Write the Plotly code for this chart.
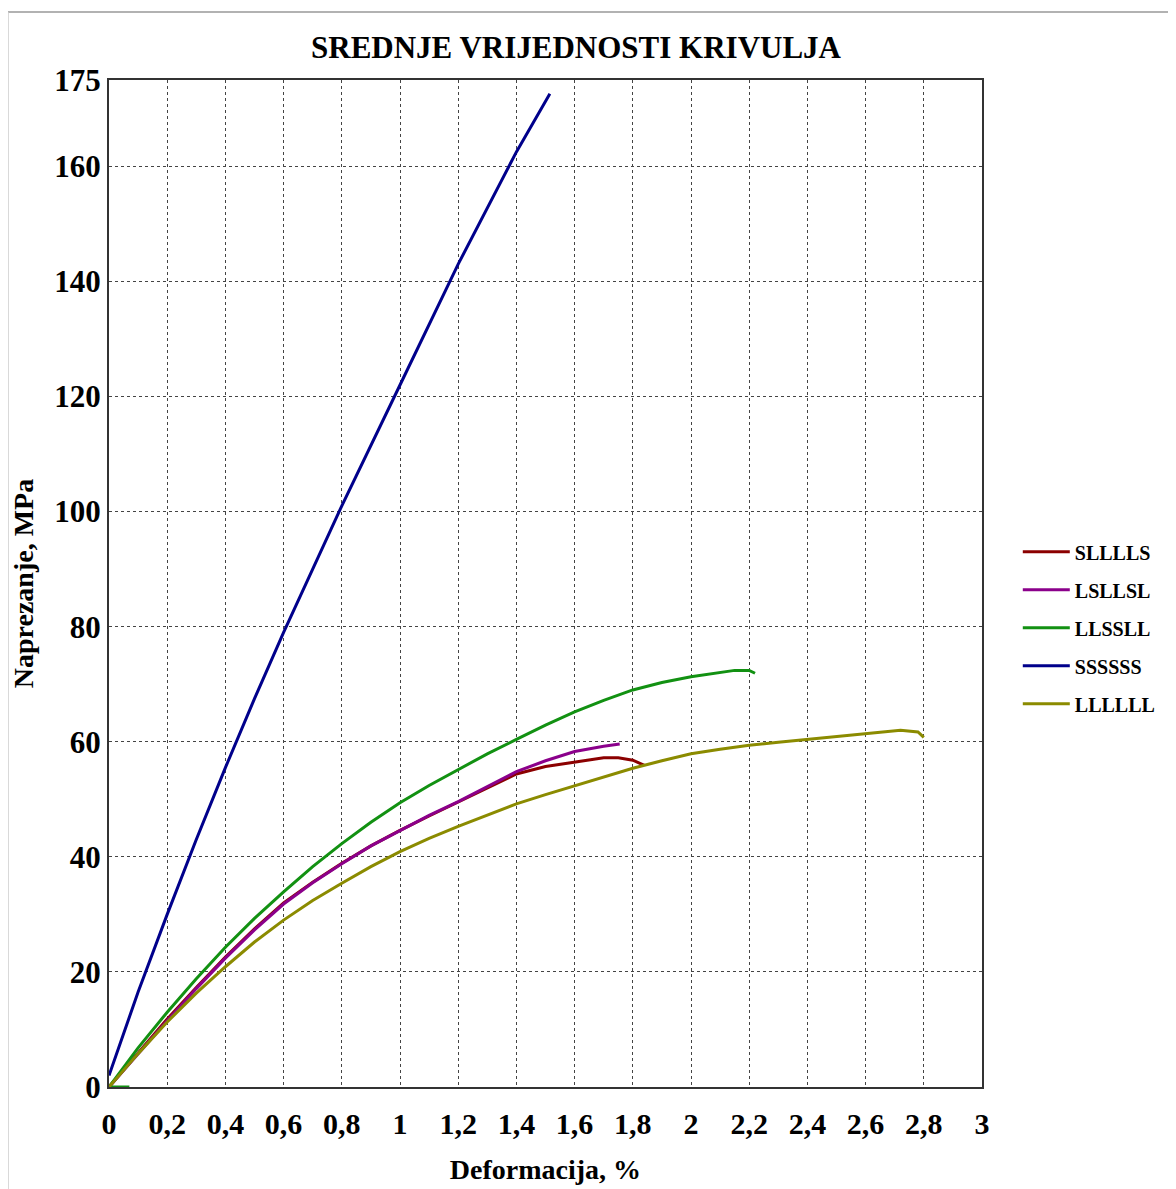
import plotly.graph_objects as go

# ---- data ----
x_sllls = [0, 0.1, 0.2, 0.3, 0.4, 0.5, 0.6, 0.7, 0.8, 0.9, 1.0, 1.1, 1.2, 1.3, 1.4, 1.5, 1.6, 1.65, 1.7, 1.75, 1.78, 1.8, 1.84]
y_sllls = [0, 6.0, 11.8, 17.3, 22.6, 27.5, 32.0, 35.6, 38.9, 41.9, 44.6, 47.1, 49.5, 52.0, 54.4, 55.7, 56.5, 56.9, 57.2, 57.2, 57.0, 56.8, 55.9]

x_lsllsl = [0, 0.1, 0.2, 0.3, 0.4, 0.5, 0.6, 0.7, 0.8, 0.9, 1.0, 1.1, 1.2, 1.3, 1.4, 1.5, 1.6, 1.7, 1.755]
y_lsllsl = [0, 5.8, 11.5, 17.1, 22.4, 27.3, 31.8, 35.5, 38.8, 41.9, 44.6, 47.2, 49.6, 52.2, 54.8, 56.7, 58.3, 59.2, 59.6]

x_llssll = [0.07, 0, 0.1, 0.2, 0.3, 0.4, 0.5, 0.6, 0.7, 0.8, 0.9, 1.0, 1.1, 1.2, 1.3, 1.4, 1.5, 1.6, 1.7, 1.8, 1.9, 2.0, 2.1, 2.15, 2.2, 2.22]
y_llssll = [0, 0, 6.8, 13.0, 18.8, 24.3, 29.3, 33.9, 38.3, 42.3, 46.0, 49.4, 52.4, 55.2, 57.9, 60.4, 62.9, 65.2, 67.2, 69.0, 70.3, 71.3, 72.0, 72.4, 72.4, 71.9]

x_ssssss = [0, 0.1, 0.2, 0.3, 0.4, 0.5, 0.6, 0.8, 1.0, 1.2, 1.4, 1.515]
y_ssssss = [2.0, 16.5, 30.0, 43.0, 55.5, 67.5, 79.0, 101.0, 122.0, 143.0, 162.5, 172.6]

x_llllll = [0, 0.1, 0.2, 0.3, 0.4, 0.5, 0.6, 0.7, 0.8, 0.9, 1.0, 1.1, 1.2, 1.3, 1.4, 1.5, 1.6, 1.7, 1.8, 1.9, 2.0, 2.1, 2.2, 2.3, 2.4, 2.5, 2.6, 2.7, 2.72, 2.78, 2.8]
y_llllll = [0, 5.8, 11.3, 16.3, 20.9, 25.2, 29.0, 32.4, 35.4, 38.3, 40.9, 43.2, 45.3, 47.3, 49.2, 50.8, 52.3, 53.9, 55.4, 56.7, 57.9, 58.7, 59.4, 59.9, 60.4, 60.9, 61.4, 61.9, 62.0, 61.7, 60.75]

series_names = ["SLLLLS", "LSLLSL", "LLSSLL", "SSSSSS", "LLLLLL"]
series_x = [x_sllls, x_lsllsl, x_llssll, x_ssssss, x_llllll]
series_y = [y_sllls, y_lsllsl, y_llssll, y_ssssss, y_llllll]
colors = ["#8B0000", "#8B008B", "#129112", "#00008B", "#8B8B00"]

x_tickvals = [0, 0.2, 0.4, 0.6, 0.8, 1.0, 1.2, 1.4, 1.6, 1.8, 2.0, 2.2, 2.4, 2.6, 2.8, 3.0]
x_ticktext = ["0", "0,2", "0,4", "0,6", "0,8", "1", "1,2", "1,4", "1,6", "1,8", "2", "2,2", "2,4", "2,6", "2,8", "3"]
y_tickvals = [0, 20, 40, 60, 80, 100, 120, 140, 160, 175]

FONT = "Liberation Serif"
W, H = 1168, 1181
ML, MR, MT, MB = 101, 194, 72, 102
PW, PH = W - ML - MR, H - MT - MB

fig = go.Figure()
for name, xs, ys, c in zip(series_names, series_x, series_y, colors):
    fig.add_trace(go.Scatter(x=xs, y=ys, mode="lines", name=name,
                             legendgroup=name,
                             line=dict(color=c, width=3)))

fig.update_layout(
    width=W, height=H,
    paper_bgcolor="white", plot_bgcolor="white",
    margin=dict(l=ML, r=MR, t=MT, b=MB),
    font=dict(family=FONT, color="black"),
    title=dict(text="SREDNJE VRIJEDNOSTI KRIVULJA", x=568 / W, xanchor="center",
               y=1 - 39 / H, yanchor="middle",
               font=dict(size=31, family=FONT, weight="bold")),
    legend=dict(x=1.041, xanchor="left", y=0.456, yanchor="middle",
                font=dict(size=20, family=FONT, weight="bold"), traceorder="grouped",
                tracegroupgap=9, itemwidth=47, bgcolor="rgba(0,0,0,0)"),
    showlegend=True,
)

fig.update_xaxes(range=[0, 3], tickvals=x_tickvals, ticktext=x_ticktext,
                 tickfont=dict(size=30, family=FONT, weight="bold"),
                 showgrid=True, gridcolor="#444", griddash="dot", gridwidth=1,
                 showline=True, linecolor="#333", linewidth=2, mirror=True,
                 zeroline=False, ticks="", ticklabelstandoff=9, automargin=False,
                 title=dict(text="Deformacija, %", font=dict(size=28, family=FONT, weight="bold"), standoff=20))
fig.update_yaxes(range=[0, 175], tickvals=y_tickvals,
                 tickfont=dict(size=31, family=FONT, weight="bold"),
                 showgrid=True, gridcolor="#444", griddash="dot", gridwidth=1,
                 showline=True, linecolor="#333", linewidth=2, mirror=True,
                 zeroline=False, ticks="", ticklabelstandoff=0, automargin=False,
                 title=dict(text="Naprezanje, MPa", font=dict(size=28, family=FONT, weight="bold"), standoff=12))

# outer frame lines of the picture
fig.add_shape(type="line", xref="paper", yref="paper", x0=-ML / PW, x1=1.3, y0=(PH + MT - 4) / PH, y1=(PH + MT - 4) / PH,
              line=dict(color="#999", width=1.5))
fig.add_shape(type="line", xref="paper", yref="paper", x0=-ML / PW, x1=-ML / PW, y0=-0.2, y1=(PH + MT - 4) / PH,
              line=dict(color="#ccc", width=1.5))

fig.write_html("out.html")
